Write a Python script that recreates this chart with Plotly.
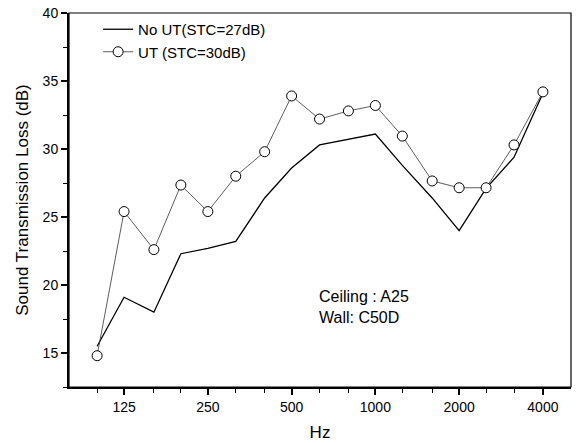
import plotly.graph_objects as go

freqs = [100, 125, 160, 200, 250, 315, 400, 500, 630, 800, 1000, 1250, 1600, 2000, 2500, 3150, 4000]
no_ut = [15.5, 19.1, 18.0, 22.3, 22.7, 23.2, 26.4, 28.6, 30.3, 30.7, 31.1, 28.8, 26.4, 24.0, 27.1, 29.4, 34.1]
ut = [14.8, 25.4, 22.6, 27.35, 25.4, 28.0, 29.8, 33.9, 32.2, 32.8, 33.2, 30.95, 27.65, 27.15, 27.15, 30.3, 34.2]
major_x = [125, 250, 500, 1000, 2000, 4000]
minor_x = [100, 160, 200, 315, 400, 630, 800, 1250, 1600, 2500, 3150]
y_major = [15, 20, 25, 30, 35, 40]
y_minor = [12.5, 17.5, 22.5, 27.5, 32.5, 37.5]

font = "Liberation Sans, Arial, sans-serif"

fig = go.Figure()
fig.add_trace(go.Scatter(
    x=freqs, y=no_ut, mode="lines", name="No UT(STC=27dB)",
    line=dict(color="black", width=1.3),
))
fig.add_trace(go.Scatter(
    x=freqs, y=ut, mode="lines+markers", name="UT (STC=30dB)",
    line=dict(color="#333333", width=0.8),
    marker=dict(symbol="circle", size=10, color="white", line=dict(color="black", width=1)),
))

fig.add_annotation(
    x=0.495, y=0.157, xref="paper", yref="paper", xanchor="left", yanchor="bottom",
    text="Ceiling : A25<br>Wall: C50D", showarrow=False, align="left",
    font=dict(family=font, size=16, color="black"),
)

fig.add_shape(type="rect", xref="paper", yref="paper", x0=0, y0=0, x1=1, y1=1,
              line=dict(color="black", width=1.2))

fig.update_layout(
    width=576, height=443,
    margin=dict(l=69, r=5, t=13, b=56),
    paper_bgcolor="white", plot_bgcolor="white",
    font=dict(family=font, color="black"),
    showlegend=True,
    legend=dict(x=0.058, y=1.0, xanchor="left", yanchor="top",
                bgcolor="rgba(0,0,0,0)", font=dict(family=font, size=15),
                itemwidth=30, tracegroupgap=0),
    xaxis=dict(
        type="log", range=[1.899, 3.703],
        tickmode="array", tickvals=major_x, ticktext=[str(v) for v in major_x],
        ticks="outside", ticklen=6, tickwidth=1.5, tickcolor="black",
        minor=dict(tickmode="array", tickvals=minor_x, ticks="outside", ticklen=4, tickwidth=1.2, tickcolor="black"),
        showgrid=False, zeroline=False,
        showline=True, linecolor="black", linewidth=2,
        tickfont=dict(family=font, size=14),
        title=dict(text="Hz", font=dict(family=font, size=17), standoff=12),
    ),
    yaxis=dict(
        range=[12.5, 40],
        tickmode="array", tickvals=y_major,
        ticks="outside", ticklen=6, tickwidth=1.5, tickcolor="black",
        minor=dict(tickmode="array", tickvals=y_minor, ticks="outside", ticklen=4, tickwidth=1.2, tickcolor="black"),
        showgrid=False, zeroline=False,
        showline=True, linecolor="black", linewidth=2,
        tickfont=dict(family=font, size=14),
        title=dict(text="Sound Transmission Loss (dB)", font=dict(family=font, size=17), standoff=10),
    ),
)

fig.write_html("out.html", config={"displayModeBar": False},
               post_script="document.body.style.margin='0';")
